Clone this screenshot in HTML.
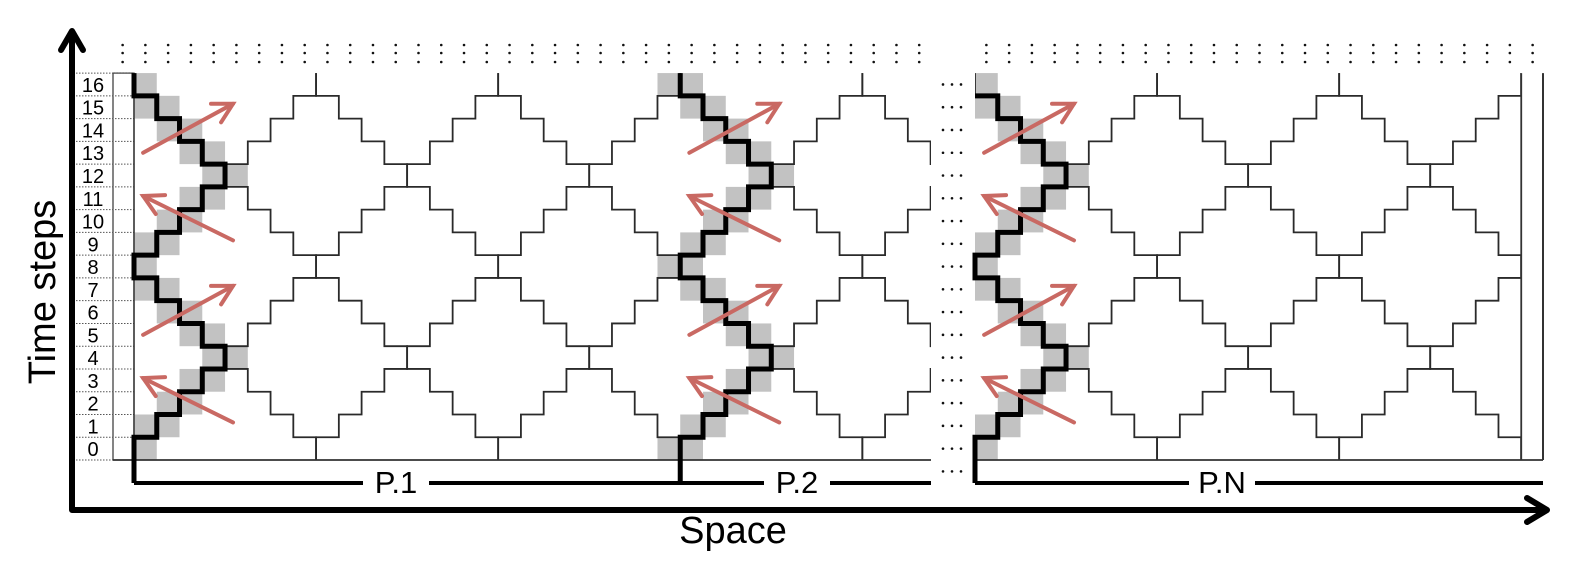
<!DOCTYPE html>
<html><head><meta charset="utf-8"><style>
html,body{margin:0;padding:0;background:#fff;}
svg{display:block;font-family:"Liberation Sans",sans-serif;}
</style></head><body>
<svg id="chart" width="1590" height="578" viewBox="0 0 1590 578" xmlns="http://www.w3.org/2000/svg">
<defs>
<clipPath id="clipP1"><rect x="134" y="60" width="797" height="410"/></clipPath>
<clipPath id="clipPN"><rect x="975" y="60" width="546" height="410"/></clipPath>
</defs>
<g id="layer"></g>
</svg>
<script>
// ---- data ----
const timeSteps = [0,1,2,3,4,5,6,7,8,9,10,11,12,13,14,15,16];
const stepOffsets = [0,1,2,3,4,3,2,1,0,1,2,3,4,3,2,1,0];
const processLabels = ['P.1','P.2','P.N'];
const diamondPeriod = 8;

// ---- geometry ----
const NS='http://www.w3.org/2000/svg';
const layer=document.getElementById('layer');
const u=22.76, yBase=460;
const yB=b=>yBase-b*u;
function mk(tag,attrs,parent){const e=document.createElementNS(NS,tag);for(const k in attrs)e.setAttribute(k,attrs[k]);(parent||layer).appendChild(e);return e;}
const regions=[{x0:134,cols:35,clip:'url(#clipP1)',thick:[0,24],skipLeftK0:true},{x0:975,cols:24,clip:'url(#clipPN)',thick:[0],skipLeftK0:true}];
const cx=(r,c)=>r.x0+c*u;

// dots on top
regions.forEach((rg,ri)=>{
  for(let i=-(ri===0?1:0);i<=rg.cols-0.5- (ri===0?0.5:0.5)+0.5-0.5+ (ri===0?-0.5:0.5) - (ri===0?-0.5:0.5)+ (ri===0?0: -0) ;i++){}
});
function topDots(x0,from,to){for(let i=from;i<=to;i++){[45,53,62].forEach(y=>{const d=mk('circle',{cx:x0+(i+0.5)*u,cy:y,r:1.3,fill:'#111'});

});}}
topDots(134,-1,34);topDots(975,0,24);
// horizontal ellipsis between P.2 and P.N
for(let r=-1;r<=16;r++){[943,952,961].forEach(x=>{const d=mk('circle',{cx:x,cy:yB(r)-u/2,r:1.3,fill:'#111'});

});}

// label column
const lab=mk('g',{});


mk('rect',{x:113,y:yB(17),width:21,height:17*u,fill:'none',stroke:'#333','stroke-width':1.2},lab);
for(let b=0;b<=17;b++){mk('line',{x1:76,x2:134,y1:yB(b),y2:yB(b),stroke:'#555','stroke-width':1,'stroke-dasharray':'1.5,1.5'},lab);}
timeSteps.forEach((t,i)=>{const tx=mk('text',{x:93,y:yB(i)-u/2+7.5,'font-size':20,'text-anchor':'middle',fill:'#000'},lab);tx.textContent=t;

});

// gray cells
function grayCells(x0,skipNeg){for(let r=0;r<timeSteps.length;r++){const c=stepOffsets[r];[c-1,c].forEach(cc=>{if(skipNeg&&cc<0)return;const g=mk('rect',{x:x0+cc*u,y:yB(r+1),width:u,height:u,fill:'#c2c2c2'});

});}}
grayCells(134,true);grayCells(134+24*u,false);grayCells(975,true);

// thin staircase lines
function stairPts(x0,k,s){const pts=[];for(let r=0;r<stepOffsets.length;r++){const c=diamondPeriod*k+s*stepOffsets[r];const x=x0+c*u;pts.push([x,yB(r)],[x,yB(r+1)]);}return pts.map(p=>p.join(',')).join(' ');}
regions.forEach(rg=>{const g=mk('g',{'clip-path':rg.clip});


const kmax=Math.ceil(rg.cols/diamondPeriod)+1;
for(let k=0;k<=kmax;k++){[1,-1].forEach(s=>{if(k===0&&s===-1)return;const p=mk('polyline',{points:stairPts(rg.x0,k,s),fill:'none',stroke:'#2a2a2a','stroke-width':1.8},g);

});}
});
// borders
mk('line',{x1:134,x2:134,y1:yB(17),y2:yB(0),stroke:'#333','stroke-width':1.5});
mk('line',{x1:113,x2:931,y1:yBase,y2:yBase,stroke:'#333','stroke-width':1.8});
mk('line',{x1:975,x2:1543,y1:yBase,y2:yBase,stroke:'#333','stroke-width':1.8});
mk('line',{x1:975+24*u,x2:975+24*u,y1:yB(17),y2:yBase,stroke:'#333','stroke-width':1.8});
mk('line',{x1:1543,x2:1543,y1:yB(17),y2:yBase,stroke:'#333','stroke-width':2});

// thick paths
function thick(x0,skipTop){let d=`M${x0} 483 L${x0} ${yB(1)}`;for(let r=1;r<stepOffsets.length;r++){const x=x0+stepOffsets[r]*u;d+=` L${x} ${yB(r)} L${x} ${yB(r+1)}`;if(skipTop&&r===15){d+=` L${x0} ${yB(16)}`;break;}}
const p=mk('path',{d:d,fill:'none',stroke:'#000','stroke-width':5,'stroke-linejoin':'miter'});

}
thick(134,false);thick(134+24*u,false);thick(975,true);

// arrows
const arrowDefs=[[0.4,13.5,4.35,15.65],[4.35,9.65,0.4,11.6]];
function arrow(x1,y1,x2,y2){const g=mk('g',{stroke:'#c96963','stroke-width':4,'stroke-linecap':'round',fill:'none'});


mk('line',{x1,y1,x2,y2},g);const a=Math.atan2(y1-y2,x1-x2),L=22,w=0.5;
mk('polyline',{points:`${x2+L*Math.cos(a+w)},${y2+L*Math.sin(a+w)} ${x2},${y2} ${x2+L*Math.cos(a-w)},${y2+L*Math.sin(a-w)}`},g);}
[134,134+24*u,975].forEach(x0=>{[0,8].forEach(sh=>{arrowDefs.forEach(a=>arrow(x0+a[0]*u,yB(a[1]-sh),x0+a[2]*u,yB(a[3]-sh)));});});

// process bars
mk('line',{x1:134,x2:931,y1:483,y2:483,stroke:'#000','stroke-width':4});
mk('line',{x1:975,x2:1543,y1:483,y2:483,stroke:'#000','stroke-width':4});
[[396,processLabels[0]],[797,processLabels[1]],[1222,processLabels[2]]].forEach(([x,t])=>{mk('rect',{x:x-33,y:470,width:66,height:28,fill:'#fff'});
const tx=mk('text',{x:x,y:493,'font-size':31,'text-anchor':'middle',fill:'#000'});tx.textContent=t;

});

// axes
const ax=mk('g',{stroke:'#000','stroke-width':6,fill:'none','stroke-linecap':'round','stroke-linejoin':'round'});


mk('polyline',{points:'72,34 72,510 1546,510'},ax);
mk('polyline',{points:'61,50 72,31 83,50'},ax);
mk('polyline',{points:'1527,498 1547,510 1527,522'},ax);
const yt=mk('text',{x:0,y:0,'font-size':38,'text-anchor':'middle',transform:'translate(55,292) rotate(-90)',fill:'#000'});yt.textContent='Time steps';


const xt=mk('text',{x:733,y:543,'font-size':38,'text-anchor':'middle',fill:'#000'});xt.textContent='Space';


</script>
</body></html>
